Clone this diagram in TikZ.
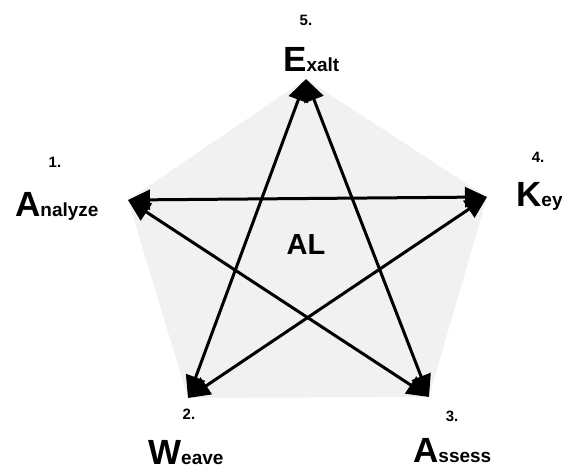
\documentclass[tikz,border=0pt]{standalone}
\usepackage{fontspec}
\setmainfont{Liberation Sans}
\usetikzlibrary{arrows.meta}

% letra inicial grande y resto de la palabra
\newcommand{\inicial}[1]{{\fontsize{35}{35}\selectfont #1}}
\newcommand{\resto}[1]{{\fontsize{19}{19}\selectfont #1}}

\begin{document}
\begin{tikzpicture}[x=1pt,y=-1pt,
    flecha/.style={{Triangle[length=22pt,width=20pt]}-{Triangle[length=22pt,width=20pt]}, line width=3pt},
    numero/.style={font=\fontsize{15}{15}\selectfont\bfseries},
    palabra/.style={anchor=base west, inner sep=0pt, font=\bfseries}]
    \useasboundingbox (0,0) rectangle (562,470);

    % Vertices de la estrella
    \coordinate (An) at (128,200);
    \coordinate (Ex) at (306,79);
    \coordinate (Ke) at (487,197);
    \coordinate (As) at (429,397);
    \coordinate (We) at (188,398);

    % Fondo gris del pentagono
    \fill[gray!11] (An) -- (Ex) -- (Ke) -- (As) -- (We) -- cycle;

    % Centro
    \node[font=\fontsize{29}{29}\selectfont\bfseries] (AL) at (306,245) {AL};

    % Arcos de la estrella (doble punta)
    \draw[flecha] (Ex) -- (We);
    \draw[flecha] (Ex) -- (As);
    \draw[flecha] (An) -- (Ke);
    \draw[flecha] (An) -- (As);
    \draw[flecha] (We) -- (Ke);

    % Numeros
    \node[numero] (n1) at (55,162) {1.};
    \node[numero] (n2) at (189,414) {2.};
    \node[numero] (n3) at (452,416) {3.};
    \node[numero] (n4) at (538,157) {4.};
    \node[numero] (n5) at (306,20) {5.};

    % Palabras
    \node[palabra] (tA) at (15,217) {\inicial{A}\resto{nalyze}};
    \node[palabra] (tW) at (148,464) {\inicial{W}\resto{eave}};
    \node[palabra] (tS) at (413,462) {\inicial{A}\resto{ssess}};
    \node[palabra] (tK) at (516,207) {\inicial{K}\resto{ey}};
    \node[palabra] (tE) at (283,72) {\inicial{E}\resto{xalt}};
\end{tikzpicture}
\end{document}
